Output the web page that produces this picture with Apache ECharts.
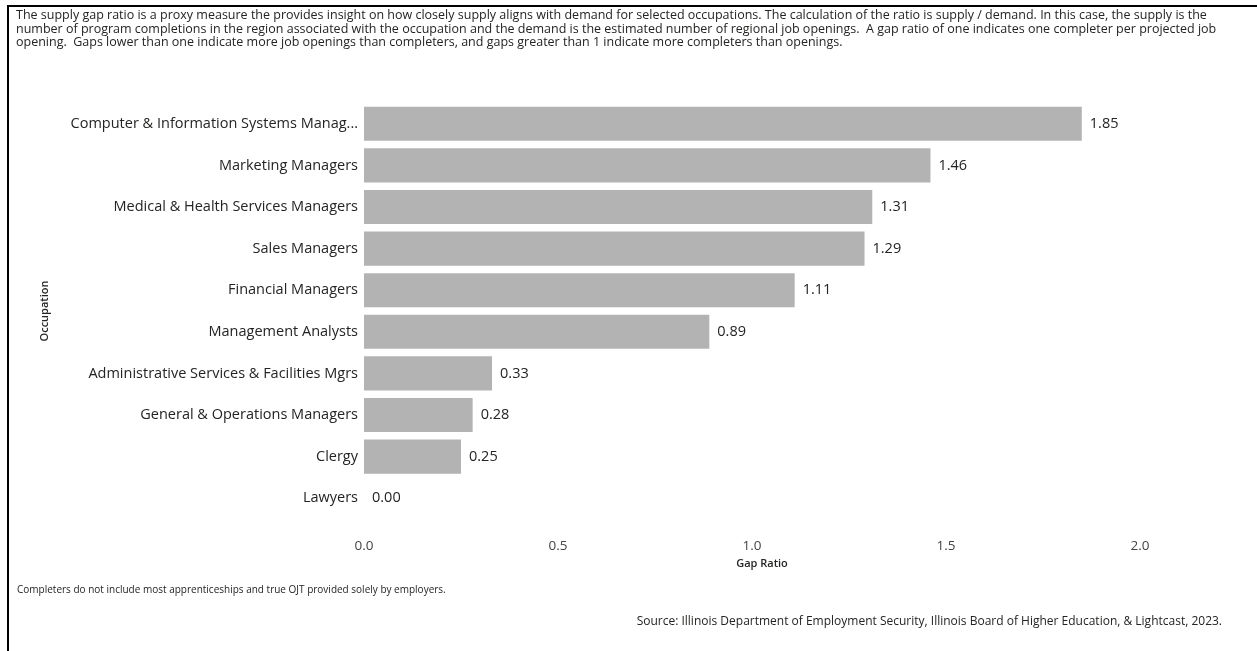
<!DOCTYPE html>
<html>
<head>
<meta charset="utf-8">
<script src="https://cdn.jsdelivr.net/npm/echarts@6/dist/echarts.min.js"></script>
<style>
    html, body { margin: 0; padding: 0; background: #fff; }
    #gapChart { width: 1257px; height: 651px; }
</style>
</head>
<body>
<div id="gapChart"></div>
<script>
    // occupations, bottom to top (category axis starts at the bottom)
    var occupations = [
        'Lawyers',
        'Clergy',
        'General & Operations Managers',
        'Administrative Services & Facilities Mgrs',
        'Management Analysts',
        'Financial Managers',
        'Sales Managers',
        'Medical & Health Services Managers',
        'Marketing Managers',
        'Computer & Information Systems Managers'
    ];
    var gapRatios = [0.00, 0.25, 0.28, 0.33, 0.89, 1.11, 1.29, 1.31, 1.46, 1.85];
    var xTicks = [0, 0.5, 1.0, 1.5, 2.0];

    var introText = [
        'The supply gap ratio is a proxy measure the provides insight on how closely supply aligns with demand for selected occupations. The calculation of the ratio is supply / demand. In this case, the supply is the',
        'number of program completions in the region associated with the occupation and the demand is the estimated number of regional job openings.  A gap ratio of one indicates one completer per projected job',
        'opening.  Gaps lower than one indicate more job openings than completers, and gaps greater than 1 indicate more completers than openings.'
    ];
    var noteText = 'Completers do not include most apprenticeships and true OJT provided solely by employers.';
    var sourceText = 'Source: Illinois Department of Employment Security, Illinois Board of Higher Education, & Lightcast, 2023.';

    var fontFam = '"Segoe UI", "Open Sans", "Noto Sans", sans-serif';
    var textColor = '#252423';

    var chart = echarts.init(document.getElementById('gapChart'));

    var option = {
        backgroundColor: '#fff',
        textStyle: { fontFamily: fontFam },
        title: [
            {
                text: introText.join('\n'),
                left: 11,
                top: 4,
                textStyle: { fontSize: 12.5, fontWeight: 'normal', color: textColor, lineHeight: 13.5, fontFamily: fontFam }
            },
            {
                text: noteText,
                left: 12,
                top: 580,
                textStyle: { fontSize: 10, fontWeight: 'normal', color: textColor, fontFamily: fontFam }
            },
            {
                text: sourceText,
                right: 30,
                top: 611,
                textStyle: { fontSize: 12, fontWeight: 'normal', color: textColor, fontFamily: fontFam }
            }
        ],
        // frame lines on top and left, like the source report
        graphic: [
            { type: 'rect', shape: { x: 7, y: 5, width: 1250, height: 2 }, style: { fill: '#000' } },
            { type: 'rect', shape: { x: 7, y: 5, width: 2, height: 646 }, style: { fill: '#000' } }
        ],
        grid: {
            left: 364,
            right: 117,
            top: 103,
            bottom: 132,
            containLabel: false
        },
        xAxis: {
            type: 'value',
            min: 0,
            max: 2,
            interval: 0.5,
            name: 'Gap Ratio',
            nameLocation: 'middle',
            nameGap: 37,
            nameTextStyle: { fontSize: 11, fontWeight: 600, color: textColor, padding: [0, 0, 0, 20] },
            axisLine: { show: false },
            axisTick: { show: false },
            splitLine: { show: false },
            axisLabel: {
                fontSize: 13.5,
                color: '#444',
                margin: 20,
                formatter: function (v) { return v.toFixed(1); }
            }
        },
        yAxis: {
            type: 'category',
            data: occupations,
            name: 'Occupation',
            nameLocation: 'middle',
            nameGap: 314,
            nameTextStyle: { fontSize: 11, fontWeight: 600, color: textColor },
            axisLine: { show: false },
            axisTick: { show: false },
            axisLabel: {
                fontSize: 14.5,
                color: textColor,
                margin: 6,
                width: 290,
                overflow: 'truncate',
                ellipsis: '...'
            }
        },
        series: [
            {
                name: 'Gap Ratio',
                type: 'bar',
                data: gapRatios,
                barCategoryGap: '18%',
                itemStyle: { color: '#b3b3b3' },
                label: {
                    show: true,
                    position: 'right',
                    distance: 8,
                    fontSize: 14.5,
                    color: textColor,
                    formatter: function (p) { return p.value.toFixed(2); }
                }
            }
        ]
    };

    chart.setOption(option);
</script>
</body>
</html>
